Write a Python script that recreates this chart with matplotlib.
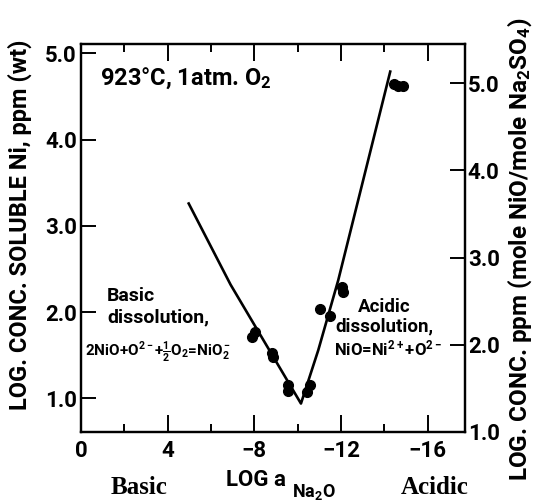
import numpy as np
import matplotlib
matplotlib.use("Agg")
import matplotlib.pyplot as plt

# values
line_x = [-4.97, -6.90, -10.15, -10.95, -11.87, -14.27]
line_y = [3.26, 2.32, 0.94, 1.56, 2.37, 4.79]

pts_x = [-7.91, -8.05, -8.83, -8.88, -9.53, -9.53, -10.45, -10.58,
         -11.04, -11.50, -12.06, -12.10, -14.45, -14.65, -14.85]
pts_y = [1.71, 1.77, 1.53, 1.48, 1.15, 1.09, 1.07, 1.15,
         2.04, 1.96, 2.29, 2.23, 4.65, 4.62, 4.62]

xticks = [0, -4, -8, -12, -16]
xtick_labels = ["0", "4", "\u22128", "\u221212", "\u221216"]
xminor = [-2, -6, -10, -14]
left_ticks = [1.0, 2.0, 3.0, 4.0, 5.0]
right_ticks = [1.0, 2.0, 3.0, 4.0, 5.0]

plt.rcParams['font.family'] = ['Roboto', 'DejaVu Sans']
plt.rcParams['font.weight'] = 'bold'
plt.rcParams['axes.labelweight'] = 'bold'
plt.rcParams['mathtext.fontset'] = 'custom'
plt.rcParams['mathtext.rm'] = 'Roboto:bold'
plt.rcParams['mathtext.it'] = 'Roboto:bold'
plt.rcParams['mathtext.bf'] = 'Roboto:bold'
plt.rcParams['mathtext.default'] = 'rm'

fig = plt.figure(figsize=(5.36, 5.04), dpi=100)
ax = fig.add_axes([81 / 536, 1 - 432 / 504, 384 / 536, 388 / 504])
ax2 = ax.twinx()

ax.plot(line_x, line_y, color='black', lw=1.9, solid_joinstyle='round')
ax.plot(pts_x, pts_y, 'o', color='black', ms=7)

ax.set_xlim(0.0, -17.72)
ax.set_ylim(0.61, 5.11)
ax2.set_ylim(1.0, 5.45)

ax.set_xticks(xticks)
ax.set_xticklabels(xtick_labels)
ax.set_xticks(xminor, minor=True)
ax.set_yticks(left_ticks)
ax.set_yticklabels([f"{v:.1f}" for v in left_ticks])
ax2.set_yticks(right_ticks)
ax2.set_yticklabels([f"{v:.1f}" for v in right_ticks])

ax.tick_params(axis='x', which='major', direction='in', top=True, length=12,
               width=1.4, labelsize=16, pad=6)
ax.tick_params(axis='x', which='minor', direction='in', top=True, length=6,
               width=1.4)
ax.tick_params(axis='y', direction='in', right=False, length=11, width=1.4,
               labelsize=16, pad=3)
ax2.tick_params(axis='y', direction='in', length=11, width=1.4,
                labelsize=16, pad=2)

for a in (ax, ax2):
    for s in a.spines.values():
        s.set_linewidth(1.6)

ax.set_ylabel("LOG. CONC. SOLUBLE Ni, ppm (wt)", fontsize=17)
ax.yaxis.set_label_coords(-0.128, 0.534)
ax2.set_ylabel("LOG. CONC. ppm (mole NiO/mole Na$_2$SO$_4$)", fontsize=17.5,
               rotation=90)
ax2.yaxis.set_label_coords(1.105, 0.47)

ax.text(0.049, 0.912, "923\u00b0C, 1atm. O$_2$", transform=ax.transAxes,
        fontsize=17, va='center', ha='left')

ax.text(0.068, 0.35, "Basic", transform=ax.transAxes, fontsize=14,
        va='center', ha='left')
ax.text(0.068, 0.296, "dissolution,", transform=ax.transAxes, fontsize=14,
        va='center', ha='left')
ax.text(0.01, 0.206, r"2NiO+O$^{2-}$+$\frac{1}{2}$O$_2$=NiO$_2^-$",
        transform=ax.transAxes, fontsize=11, va='center', ha='left')

ax.text(0.79, 0.322, "Acidic", transform=ax.transAxes, fontsize=13.5,
        va='center', ha='center')
ax.text(0.79, 0.271, "dissolution,", transform=ax.transAxes, fontsize=13.5,
        va='center', ha='center')
ax.text(0.80, 0.216, r"NiO=Ni$^{2+}$+O$^{2-}$", transform=ax.transAxes,
        fontsize=12, va='center', ha='center')

fig.text(139 / 536, 1 - 488 / 504, "Basic", family='Liberation Serif',
         weight='bold', fontsize=18, ha='center', va='center')
fig.text(435 / 536, 1 - 488 / 504, "Acidic", family='Liberation Serif',
         weight='bold', fontsize=18, ha='center', va='center')
fig.text(226 / 536, 1 - 480 / 504, "LOG a", fontsize=16, ha='left',
         va='center')
fig.text(292 / 536, 1 - 492 / 504, "Na$_2$O", fontsize=13, ha='left',
         va='center')

fig.savefig("out.png", dpi=100)
